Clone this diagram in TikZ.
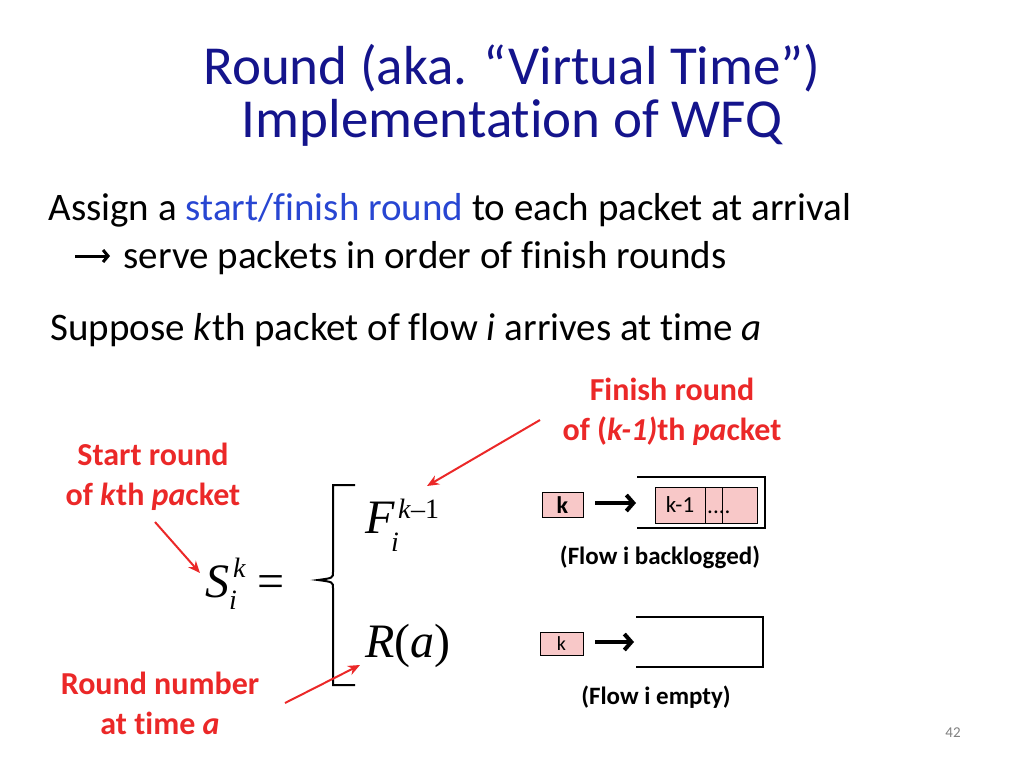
\documentclass[tikz,border=0pt]{standalone}
\usepackage{fontspec}
\setmainfont[RawFeature=-liga]{Carlito}
\newfontfamily\mathser{Liberation Serif}
\usetikzlibrary{arrows.meta}
\definecolor{navy}{RGB}{20,20,140}
\definecolor{hl}{RGB}{40,70,210}
\definecolor{redl}{RGB}{235,40,40}
\definecolor{pinkb}{RGB}{248,200,200}
\begin{document}
\begin{tikzpicture}[x=1pt,y=-1pt,
  title/.style={text=navy,font=\fontsize{55}{60}\selectfont},
  body/.style={anchor=base west,font=\fontsize{39}{44}\selectfont},
  redlab/.style={text=redl,font=\bfseries\fontsize{32}{40}\selectfont,align=center},
  small/.style={font=\bfseries\fontsize{25}{28}\selectfont},
  pkt/.style={draw,fill=pinkb,inner sep=0pt,line width=1pt},
  redarr/.style={draw=redl,line width=2pt,-{Stealth[length=12pt,width=10pt]}},
  blkarr/.style={draw=black,line width=4.5pt,-{Straight Barb[length=7pt,width=16pt,line width=4pt]}},
  qline/.style={line width=1.3pt},
  mth/.style={font=\mathser\fontsize{48}{50}\selectfont\itshape,inner sep=0pt},
  sub/.style={font=\mathser\fontsize{28}{30}\selectfont\itshape,inner sep=0pt,anchor=base west}]
\useasboundingbox (0,0) rectangle (1024,768);
\node[title] (t1) at (512,68) {Round (aka. “Virtual Time”)};
\node[title] (t2) at (512,123) {Implementation of WFQ};
\node[body] (b1) at (45,220) {Assign a \textcolor{hl}{start/finish round} to each packet at arrival};
\coordinate (ba1) at (75,256);
\coordinate (ba2) at (110,256);
\draw[line width=3pt,-{Straight Barb[length=5pt,width=12pt,line width=3pt]}] (ba1) -- (ba2);
\node[body] (b2) at (120,268) {serve packets in order of finish rounds};
\node[body] (b3) at (47,340) {Suppose \textit{k}th packet of flow \textit{i} arrives at time \textit{a}};
\node[redlab] (fin) at (672,412) {Finish round\\of (\textit{k-1)}th \textit{pa}cket};
\node[redlab] (st) at (153,477) {Start round\\of \textit{k}th \textit{pa}cket};
\node[redlab] (rn) at (160,703) {Round number\\at time \textit{a}};
% equation
\node[mth,anchor=base west] (S) at (205,597) {S};
\node[sub] (Sk) at (233,577) {k};
\node[sub] (Si) at (229,609) {i};
\node[mth,font=\mathser\fontsize{48}{50}\selectfont,anchor=base west] (eq) at (257,597) {=};
\draw[line width=2pt] (355,485) -- (333,485) -- (333,572) .. controls (333,578) .. (318,580)
  .. controls (333,582) .. (333,588) -- (333,685) -- (355,685);
\node[mth,anchor=base west] (F) at (365,533) {F};
\node[sub,font=\mathser\fontsize{28}{30}\selectfont] (Fk) at (398,518) {\textit{k}–1};
\node[sub] (Fi) at (391,551) {i};
\node[mth,anchor=base west] (R) at (365,657) {R\/\textup{(}a\textup{)}};
% queues
\node[pkt,minimum width=41pt,minimum height=25pt,font=\bfseries\fontsize{24}{26}\selectfont] (k1) at (562.5,505) {k};
\coordinate (a1s) at (595,503);
\coordinate (a1) at (636,503);
\draw[blkarr] (a1s) -- (a1);
\draw[qline] (637,477) -- (765,477) -- (765,528) -- (637,528);
\node[pkt,minimum width=50pt,minimum height=36pt,font=\fontsize{23}{24}\selectfont] (q1) at (680,505) {k-1};
\node[pkt,minimum width=17pt,minimum height=36pt,font=\fontsize{23}{24}\selectfont] (q2) at (713.5,505) {};
\node[pkt,minimum width=35pt,minimum height=36pt] (q3) at (739.5,505) {};
\node[anchor=base west,inner sep=0pt,font=\fontsize{23}{24}\selectfont] (dots) at (707,513) {....};
\node[small] (fb) at (660,557) {(Flow i backlogged)};
\node[pkt,minimum width=43pt,minimum height=23pt,font=\fontsize{20}{22}\selectfont] (k2) at (561.5,644) {k};
\coordinate (a2s) at (595,642);
\coordinate (a2) at (634,642);
\draw[blkarr] (a2s) -- (a2);
\draw[qline] (636,617) -- (763,617) -- (763,667) -- (636,667);
\node[small] (fe) at (656,697) {(Flow i empty)};
\node[text=gray,font=\fontsize{15}{16}\selectfont] (pg) at (953,733) {42};
% red arrows
\coordinate (r1) at (540,420);
\coordinate (r1e) at (427,486);
\draw[redarr] (r1) -- (r1e);
\coordinate (r2) at (155,522);
\coordinate (r2e) at (200,573);
\draw[redarr] (r2) -- (r2e);
\coordinate (r3) at (285,703);
\coordinate (r3e) at (360,665);
\draw[redarr] (r3) -- (r3e);
\end{tikzpicture}
\end{document}
